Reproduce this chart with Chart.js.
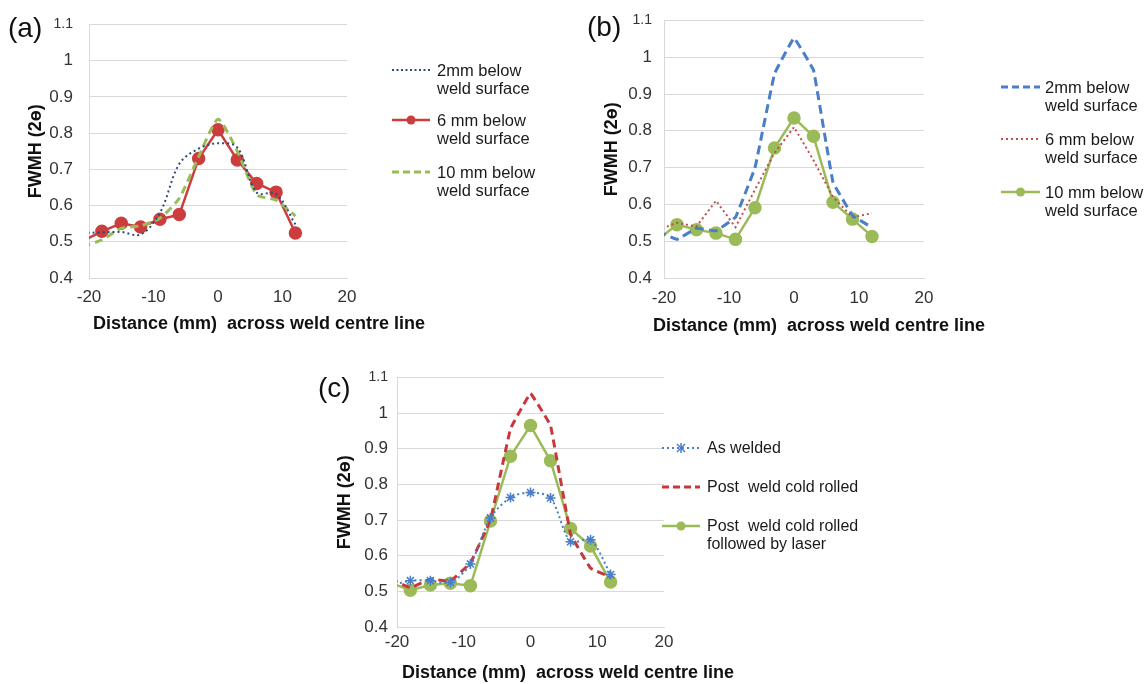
<!DOCTYPE html>
<html><head><meta charset="utf-8">
<script src="https://cdn.jsdelivr.net/npm/chart.js@4.4.0/dist/chart.umd.min.js"></script>
<style>
html,body{margin:0;padding:0;background:#fff;}
body{width:1148px;height:684px;position:relative;overflow:hidden;font-family:'Liberation Sans',Arial,sans-serif;}
canvas{position:absolute;}
.lbl{position:absolute;font-size:28px;line-height:32px;color:#111;}
.leg{position:absolute;font-size:16.5px;line-height:18px;color:#1a1a1a;white-space:pre;}
.leg svg{position:absolute;left:0;top:0;}
</style></head>
<body>
<canvas id="ca" width="580" height="340" style="left:0;top:0;width:580px;height:340px"></canvas>
<canvas id="cb" width="568" height="340" style="left:580px;top:0;width:568px;height:340px"></canvas>
<canvas id="cc" width="480" height="324" style="left:320px;top:360px;width:480px;height:324px"></canvas>

<div class="lbl" style="left:8px;top:12px">(a)</div>
<div class="lbl" style="left:587px;top:11px">(b)</div>
<div class="lbl" style="left:318px;top:372px">(c)</div>

<!-- legend (a) -->
<div class="leg" style="left:392px;top:61px"><svg width="40" height="18"><line x1="0" y1="9" x2="38" y2="9" stroke="#2B4A7E" stroke-width="2" stroke-dasharray="2 2.5"/></svg><div style="margin-left:45px">2mm below
weld surface</div></div>
<div class="leg" style="left:392px;top:111px"><svg width="40" height="18"><line x1="0" y1="9" x2="38" y2="9" stroke="#CC3D3D" stroke-width="2.5"/><circle cx="19" cy="9" r="4.5" fill="#CC3D3D"/></svg><div style="margin-left:45px">6 mm below
weld surface</div></div>
<div class="leg" style="left:392px;top:163px"><svg width="40" height="18"><line x1="0" y1="9" x2="38" y2="9" stroke="#9BBB59" stroke-width="3" stroke-dasharray="7 4"/></svg><div style="margin-left:45px">10 mm below
weld surface</div></div>

<!-- legend (b) -->
<div class="leg" style="left:1001px;top:78px"><svg width="40" height="18"><line x1="0" y1="9" x2="39" y2="9" stroke="#4A7EC7" stroke-width="3" stroke-dasharray="7 4"/></svg><div style="margin-left:44px">2mm below
weld surface</div></div>
<div class="leg" style="left:1001px;top:130px"><svg width="40" height="18"><line x1="0" y1="9" x2="39" y2="9" stroke="#C0504D" stroke-width="2" stroke-dasharray="2 3"/></svg><div style="margin-left:44px">6 mm below
weld surface</div></div>
<div class="leg" style="left:1001px;top:183px"><svg width="40" height="18"><line x1="0" y1="9" x2="39" y2="9" stroke="#9BBB59" stroke-width="2.5"/><circle cx="19.5" cy="9" r="4.5" fill="#9BBB59"/></svg><div style="margin-left:44px">10 mm below
weld surface</div></div>

<!-- legend (c) -->
<div class="leg" style="left:662px;top:439px;font-size:16px"><svg width="40" height="18"><line x1="0" y1="9" x2="38" y2="9" stroke="#4A7EC7" stroke-width="2" stroke-dasharray="2 3"/><g stroke="#4A7EC7" stroke-width="1.5"><line x1="15" y1="5" x2="23" y2="13"/><line x1="23" y1="5" x2="15" y2="13"/><line x1="19" y1="4" x2="19" y2="14"/></g></svg><div style="margin-left:45px">As welded</div></div>
<div class="leg" style="left:662px;top:478px;font-size:16px"><svg width="40" height="18"><line x1="0" y1="9" x2="38" y2="9" stroke="#C8373A" stroke-width="3" stroke-dasharray="7 4"/></svg><div style="margin-left:45px">Post  weld cold rolled</div></div>
<div class="leg" style="left:662px;top:517px;font-size:16px"><svg width="40" height="18"><line x1="0" y1="9" x2="38" y2="9" stroke="#9BBB59" stroke-width="2.5"/><circle cx="19" cy="9" r="4.5" fill="#9BBB59"/></svg><div style="margin-left:45px">Post  weld cold rolled
followed by laser</div></div>

<script>
// ---- data ----
const distances = [-21, -18, -15, -12, -9, -6, -3, 0, 3, 6, 9, 12];
const xTicks = [-20, -10, 0, 10, 20];
const yTicks = [0.4, 0.5, 0.6, 0.7, 0.8, 0.9, 1.0, 1.1];

// (a)
const a_2mm  = [0.524, 0.526, 0.527, 0.520, 0.580, 0.715, 0.757, 0.772, 0.760, 0.636, 0.632, 0.548];
const a_6mm  = [0.502, 0.529, 0.551, 0.541, 0.562, 0.575, 0.730, 0.809, 0.726, 0.661, 0.637, 0.524];
const a_10mm = [0.487, 0.505, 0.537, 0.544, 0.565, 0.620, 0.735, 0.838, 0.750, 0.630, 0.615, 0.571];
// (b)
const b_2mm  = [0.527, 0.505, 0.535, 0.528, 0.565, 0.700, 0.955, 1.052, 0.965, 0.660, 0.570, 0.537];
const b_6mm  = [0.530, 0.550, 0.540, 0.610, 0.538, 0.640, 0.740, 0.810, 0.720, 0.620, 0.565, 0.576];
const b_10mm = [0.503, 0.545, 0.531, 0.522, 0.505, 0.591, 0.753, 0.835, 0.785, 0.606, 0.560, 0.513];
// (c)
const c_asWelded = [0.515, 0.530, 0.530, 0.525, 0.577, 0.706, 0.763, 0.777, 0.762, 0.639, 0.645, 0.547];
const c_coldRolled = [0.535, 0.510, 0.535, 0.528, 0.580, 0.700, 0.956, 1.055, 0.965, 0.660, 0.565, 0.540];
const c_laser = [0.524, 0.503, 0.518, 0.523, 0.516, 0.697, 0.879, 0.965, 0.866, 0.676, 0.627, 0.526];

const seriesNames = ['2mm below weld surface', '6 mm below weld surface', '10 mm below weld surface'];
const seriesNamesC = ['As welded', 'Post  weld cold rolled', 'Post  weld cold rolled followed by laser'];
const xTitle = 'Distance (mm)  across weld centre line';
const yTitle = 'FWMH (2ɵ)';

// ---- helpers ----
Chart.defaults.font.family = "'Liberation Sans', Arial, sans-serif";
const pts = vals => distances.map((x, i) => ({x, y: vals[i]}));
const hideFirst = r => (ctx => ctx.dataIndex === 0 ? 0 : r);

const xTitlePlugin = {
  id: 'xTitleAt',
  afterDraw(chart, args, opts) {
    const c = chart.ctx;
    c.save();
    c.font = "bold 18px 'Liberation Sans', Arial, sans-serif";
    c.fillStyle = '#111';
    c.textBaseline = 'alphabetic';
    c.textAlign = 'left';
    c.fillText(opts.text, chart.chartArea.left + opts.dx, opts.y);
    c.restore();
  }
};

function makeChart(id, datasets, g) {
  return new Chart(document.getElementById(id), {
    type: 'line',
    data: {datasets},
    plugins: [xTitlePlugin],
    options: {
      responsive: false, animation: false,
      layout: {padding: {left: 0, top: g.top, right: g.right, bottom: 0}},
      plugins: {legend: {display: false}, tooltip: {enabled: false},
        xTitleAt: {text: xTitle, dx: g.xTitleDx, y: g.xTitleY}},
      scales: {
        x: {type: 'linear', min: xTicks[0], max: xTicks[xTicks.length - 1],
          afterBuildTicks: s => { s.ticks = xTicks.map(v => ({value: v})); },
          ticks: {padding: g.xTickPad, color: '#333', font: {size: 17}, maxRotation: 0, autoSkip: false},
          grid: {drawOnChartArea: false, drawTicks: false},
          border: {color: '#d9d9d9', width: 1},
          afterFit: s => { s.height = g.xHeight; }
        },
        y: {min: yTicks[0], max: yTicks[yTicks.length - 1],
          afterBuildTicks: s => { s.ticks = yTicks.map(v => ({value: v})); },
          ticks: {padding: g.yTickPad, color: '#333',
            font: ctx => ({size: (ctx.tick && ctx.tick.value > 1.05) ? 14 : 17}),
            callback: v => String(+Number(v).toFixed(1))},
          grid: {color: '#d9d9d9', drawTicks: false},
          border: {color: '#d9d9d9', width: 1},
          title: {display: true, text: yTitle, color: '#111', font: {size: 18, weight: 'bold'},
            padding: {top: g.yTitlePad, bottom: 0}},
          afterFit: s => { s.width = g.yWidth; }
        }
      }
    }
  });
}

// (a)
makeChart('ca', [
  {label: seriesNames[0], data: pts(a_2mm), borderColor: '#2B4A7E', borderWidth: 2, borderDash: [2, 3],
   tension: 0.35, pointRadius: 0},
  {label: seriesNames[2], data: pts(a_10mm), borderColor: '#9BBB59', borderWidth: 3, borderDash: [8, 5],
   tension: 0.2, pointRadius: 0},
  {label: seriesNames[1], data: pts(a_6mm), borderColor: '#CC3D3D', backgroundColor: '#CC3D3D', borderWidth: 2.5,
   tension: 0, pointRadius: hideFirst(5.5), pointBackgroundColor: '#CC3D3D', pointBorderColor: '#CC3D3D'}
], {yWidth: 89, top: 19, right: 233, xHeight: 62, yTickPad: 16, yTitlePad: 25, xTickPad: 9, xTitleDx: 4, xTitleY: 329});

// (b)
makeChart('cb', [
  {label: seriesNames[0], data: pts(b_2mm), borderColor: '#4A7EC7', borderWidth: 3, borderDash: [9, 5],
   tension: 0.05, pointRadius: 0},
  {label: seriesNames[1], data: pts(b_6mm), borderColor: '#C0504D', borderWidth: 2, borderDash: [2, 3],
   tension: 0, pointRadius: 0},
  {label: seriesNames[2], data: pts(b_10mm), borderColor: '#9BBB59', backgroundColor: '#9BBB59', borderWidth: 2.5,
   tension: 0, pointRadius: hideFirst(5.5), pointBackgroundColor: '#9BBB59', pointBorderColor: '#9BBB59'}
], {yWidth: 84, top: 18, right: 224, xHeight: 62, yTickPad: 12, yTitlePad: 21, xTickPad: 10, xTitleDx: -11, xTitleY: 331});

// (c)
makeChart('cc', [
  {label: seriesNamesC[0], data: pts(c_asWelded), borderColor: '#4A7EC7', borderWidth: 2, borderDash: [2, 3],
   tension: 0.3, pointStyle: 'star', pointRadius: hideFirst(5), pointBorderColor: '#4A7EC7', pointBorderWidth: 1.5},
  {label: seriesNamesC[1], data: pts(c_coldRolled), borderColor: '#C8373A', borderWidth: 3, borderDash: [8, 5],
   tension: 0.05, pointRadius: 0},
  {label: seriesNamesC[2], data: pts(c_laser), borderColor: '#9BBB59', backgroundColor: '#9BBB59', borderWidth: 2.5,
   tension: 0, pointRadius: hideFirst(5.5), pointBackgroundColor: '#9BBB59', pointBorderColor: '#9BBB59'}
], {yWidth: 77, top: 13, right: 136, xHeight: 57, yTickPad: 9, yTitlePad: 14, xTickPad: 5, xTitleDx: 5, xTitleY: 318});
</script>
</body></html>
